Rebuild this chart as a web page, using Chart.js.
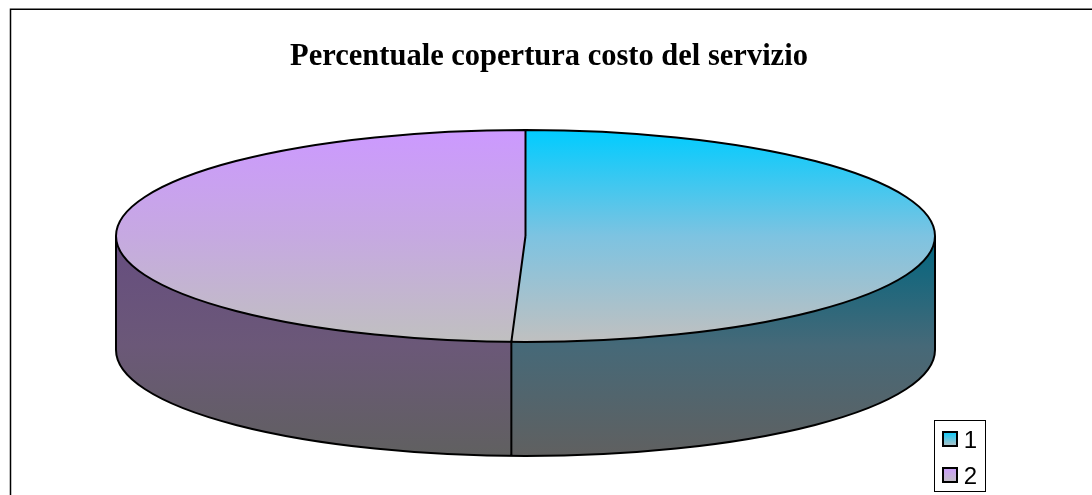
<!DOCTYPE html>
<html>
<head>
<meta charset="utf-8">
<style>
  html, body { margin: 0; padding: 0; background: #fff; }
  canvas { display: block; }
</style>
<script src="https://cdn.jsdelivr.net/npm/chart.js@4"></script>
</head>
<body>
<canvas id="pieChart" width="1092" height="495"></canvas>
<script>
const titleText = "Percentuale copertura costo del servizio";
const categories = ["1", "2"];
const shares = [50.55, 49.45];
const topColors = ["#00ccff", "#cc99ff"];
const topMidColors = ["#7dc3e1", "#c6a9e1"];
const wallColors = ["#006680", "#664d80"];
const wallMidColors = ["#466978", "#6b5878"];
const fadeColor = "#c0c0c0";
const wallFade = "#606060";

// the tilted pie: ellipse centre, radii and wall height
const tilt = { cx: 525.5, cy: 236, rx: 409.5, ry: 106, depth: 114 };
const frame = { left: 10.5, top: 9.25 };

function topGradient(chart, i) {
  const area = chart.chartArea;
  if (!area) return topColors[i];
  const mid = (area.top + area.bottom) / 2;
  const r = Math.min(area.right - area.left, area.bottom - area.top) / 2;
  const g = chart.ctx.createLinearGradient(0, mid - r, 0, mid + r);
  g.addColorStop(0, topColors[i]);
  g.addColorStop(0.5, topMidColors[i]);
  g.addColorStop(1, fadeColor);
  return g;
}

function drawWalls(chart, arcs) {
  const ctx = chart.ctx;
  const { cx, cy, rx, ry, depth } = tilt;
  arcs.forEach((arc, i) => {
    // only the part of the slice facing the viewer has a wall
    const a = Math.max(arc.startAngle, 0);
    const b = i === 0 ? Math.min(arc.endAngle, Math.PI) : Math.PI;
    if (b <= a) return;
    ctx.beginPath();
    ctx.ellipse(cx, cy, rx, ry, 0, a, b);
    ctx.ellipse(cx, cy + depth, rx, ry, 0, b, a, true);
    ctx.closePath();
    const g = ctx.createLinearGradient(0, cy, 0, cy + ry + depth);
    g.addColorStop(0, wallColors[i]);
    g.addColorStop(0.5, wallMidColors[i]);
    g.addColorStop(1, wallFade);
    ctx.fillStyle = g;
    ctx.fill();
  });
  ctx.lineWidth = 2;
  ctx.strokeStyle = "#000";
  ctx.beginPath();
  ctx.moveTo(cx - rx, cy);
  ctx.lineTo(cx - rx, cy + depth);
  ctx.ellipse(cx, cy + depth, rx, ry, 0, Math.PI, 0, true);
  ctx.lineTo(cx + rx, cy);
  const seam = arcs[0].endAngle;
  ctx.moveTo(cx + rx * Math.cos(seam), cy + ry * Math.sin(seam));
  ctx.lineTo(cx + rx * Math.cos(seam), cy + ry * Math.sin(seam) + depth);
  ctx.stroke();
}

const tiltedPie = {
  id: "tiltedPie",
  beforeDraw(chart) {
    const ctx = chart.ctx;
    ctx.save();
    ctx.strokeStyle = "#000";
    ctx.lineWidth = 1.5;
    ctx.beginPath();
    ctx.moveTo(frame.left, chart.height + 2);
    ctx.lineTo(frame.left, frame.top);
    ctx.lineTo(chart.width + 2, frame.top);
    ctx.stroke();
    ctx.restore();
  },
  beforeDatasetsDraw(chart) {
    const ctx = chart.ctx;
    const arcs = chart.getDatasetMeta(0).data;
    const arc = arcs[0];
    ctx.save();
    drawWalls(chart, arcs);
    ctx.restore();
    ctx.save();
    ctx.translate(tilt.cx, tilt.cy);
    ctx.scale(tilt.rx / arc.outerRadius, tilt.ry / arc.outerRadius);
    ctx.translate(-arc.x, -arc.y);
  },
  afterDatasetsDraw(chart) {
    const ctx = chart.ctx;
    ctx.restore();
    const arcs = chart.getDatasetMeta(0).data;
    const { cx, cy, rx, ry } = tilt;
    ctx.save();
    ctx.lineWidth = 2;
    ctx.strokeStyle = "#000";
    ctx.beginPath();
    ctx.ellipse(cx, cy, rx, ry, 0, 0, Math.PI * 2);
    arcs.forEach(arc => {
      ctx.moveTo(cx, cy);
      ctx.lineTo(cx + rx * Math.cos(arc.startAngle), cy + ry * Math.sin(arc.startAngle));
    });
    ctx.stroke();
    ctx.restore();
  },
  afterDraw(chart) {
    // legend box and swatches, placed from the legend's own hit boxes
    const ctx = chart.ctx;
    const boxes = chart.legend.legendHitBoxes;
    ctx.save();
    ctx.strokeStyle = "#000";
    ctx.lineWidth = 1;
    const first = boxes[0];
    ctx.strokeRect(Math.round(first.left) - 7.5, Math.round(first.top) - 8.5, 51, 71);
    boxes.forEach((box, i) => {
      const x = Math.round(box.left);
      const y = Math.round(box.top) + 2;
      const g = ctx.createLinearGradient(0, y, 0, y + 16);
      g.addColorStop(0, topColors[i]);
      g.addColorStop(1, fadeColor);
      ctx.fillStyle = g;
      ctx.fillRect(x, y, 16, 16);
      ctx.lineWidth = 2;
      ctx.strokeRect(x + 1, y + 1, 14, 14);
    });
    ctx.restore();
  }
};

new Chart(document.getElementById("pieChart"), {
  type: "pie",
  data: {
    labels: categories,
    datasets: [{
      data: shares,
      backgroundColor: ctx => topGradient(ctx.chart, ctx.dataIndex),
      borderWidth: 0,
      hoverOffset: 0
    }]
  },
  options: {
    responsive: false,
    animation: false,
    events: [],
    layout: { padding: { left: 111, right: 105, top: 0, bottom: -6 } },
    plugins: {
      tooltip: { enabled: false },
      title: {
        display: true,
        text: titleText,
        color: "#000",
        font: { family: "'Liberation Serif'", size: 30.5, weight: "bold" },
        padding: { top: 39, bottom: 10 }
      },
      legend: {
        position: "right",
        align: "end",
        labels: {
          boxWidth: 10,
          boxHeight: 24,
          padding: 12,
          color: "#000",
          font: { family: "'Liberation Sans'", size: 24 },
          generateLabels: chart => categories.map((c, i) => ({
            text: c,
            fillStyle: "transparent",
            strokeStyle: "transparent",
            lineWidth: 0,
            index: i,
            datasetIndex: 0
          }))
        }
      }
    }
  },
  plugins: [tiltedPie]
});
</script>
</body>
</html>
